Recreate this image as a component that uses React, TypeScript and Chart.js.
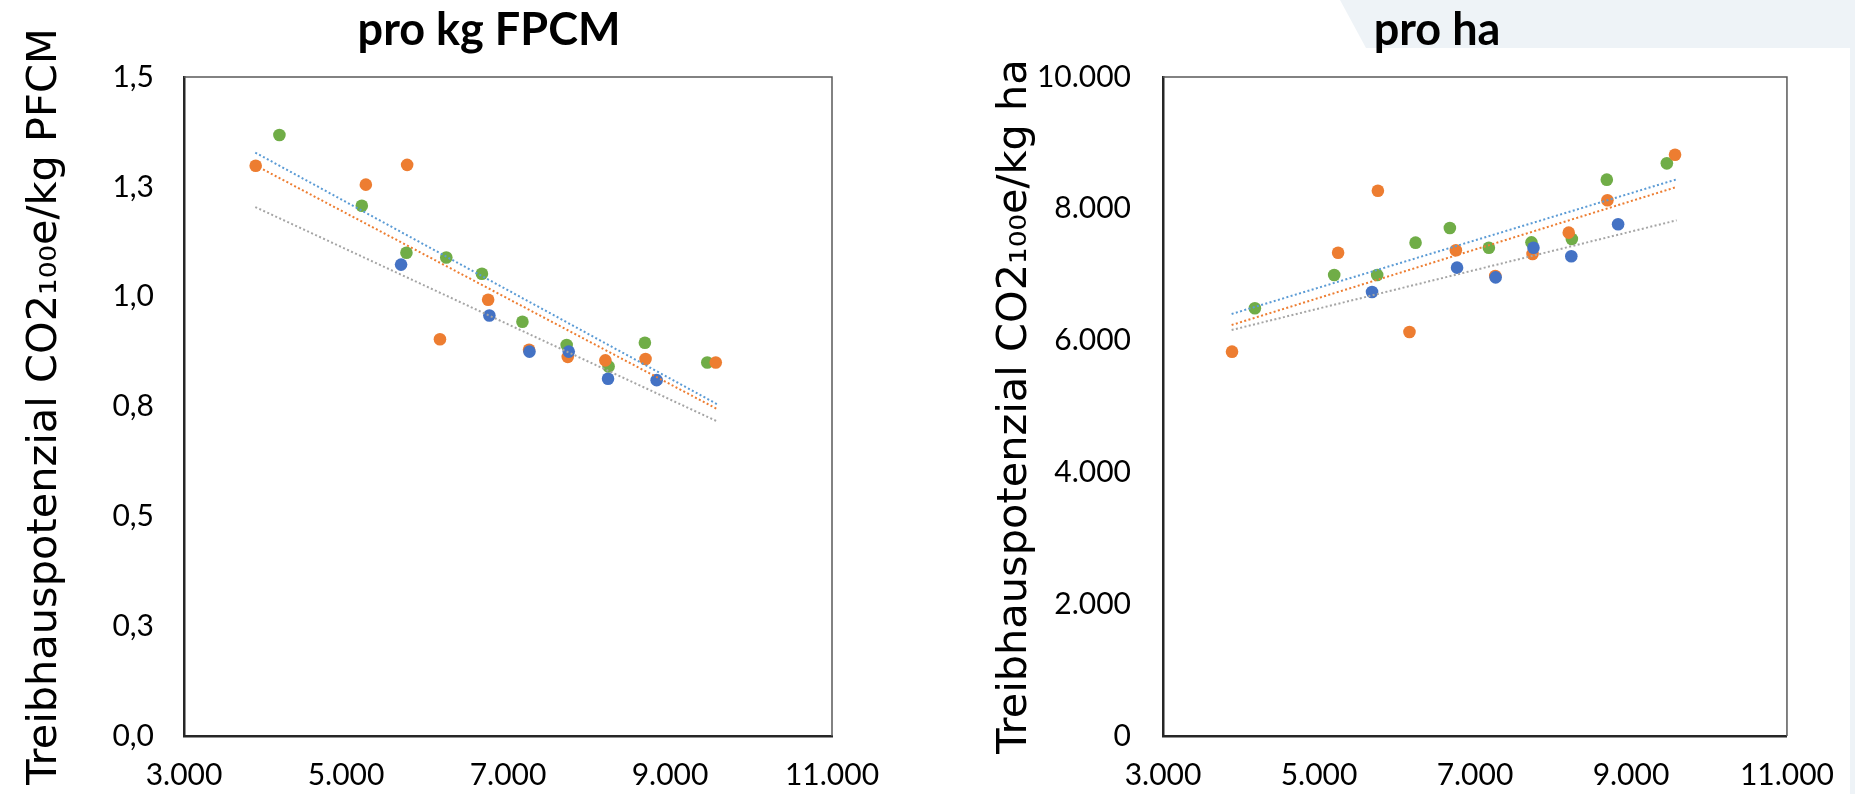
import React, { useEffect, useRef } from "react";
import { Chart, registerables } from "chart.js";

Chart.register(...registerables);

// ---- data ----
const blueX = [5680, 6770, 7265, 7750, 8235, 8835];
const orangeX = [3885, 5245, 5755, 6160, 6755, 7260, 7738, 8202, 8698, 9565];
const greenX = [4178, 5195, 5746, 6238, 6678, 7178, 7724, 8242, 8690, 9460];

const blueKg = [1.073, 0.957, 0.875, 0.875, 0.813, 0.81];
const orangeKg = [1.298, 1.255, 1.3, 0.903, 0.993, 0.879, 0.863, 0.855, 0.858, 0.85];
const greenKg = [1.368, 1.207, 1.1, 1.089, 1.052, 0.943, 0.89, 0.841, 0.895, 0.85];

const blueHa = [6737, 7107, 6960, 7410, 7279, 7765];
const orangeHa = [5832, 7334, 8275, 6130, 7370, 6980, 7314, 7638, 8129, 8821];
const greenHa = [6490, 6995, 6995, 7486, 7709, 7410, 7491, 7542, 8442, 8690];

const trendX = [3880, 9585];
const trendBlueKg = [1.328, 0.755];
const trendOrangeKg = [1.299, 0.744];
const trendGrayKg = [1.204, 0.716];
const trendBlueHa = [6404, 8447];
const trendOrangeHa = [6237, 8331];
const trendGrayHa = [6161, 7825];

const xTicks = [3000, 5000, 7000, 9000, 11000];
const kgTicks = [0, 0.25, 0.5, 0.75, 1.0, 1.25, 1.5];
const haTicks = [0, 2000, 4000, 6000, 8000, 10000];

const titleKg = "pro kg FPCM";
const titleHa = "pro ha";
const yTitleKg = "Treibhauspotenzial CO2\u2081\u2080\u2080e/kg PFCM";
const yTitleHa = "Treibhauspotenzial CO2\u2081\u2080\u2080e/kg ha";

// ---- styling ----
const BLUE = "#4472C4";
const ORANGE = "#ED7D31";
const GREEN = "#70AD47";
const T_BLUE = "#5B9BD5";
const T_ORANGE = "#ED7D31";
const T_GRAY = "#A5A5A5";
const TICK_FONT = "Lato";

const fmtThousands = (v: number) =>
  String(Math.round(v)).replace(/\B(?=(\d{3})+(?!\d))/g, ".");
const fmtKg = (v: number) => v.toFixed(1).replace(".", ",");

const pts = (xs: number[], ys: number[]) => xs.map((x, i) => ({ x, y: ys[i] }));

const framePlugin = {
  id: "frame",
  afterDatasetsDraw(chart: any) {
    const { ctx, chartArea: a } = chart;
    ctx.save();
    ctx.strokeStyle = "#595959";
    ctx.lineWidth = 1.5;
    ctx.beginPath();
    ctx.moveTo(a.left, a.top);
    ctx.lineTo(a.right, a.top);
    ctx.lineTo(a.right, a.bottom);
    ctx.stroke();
    ctx.restore();
  },
};

const panelTitlePlugin = {
  id: "panelTitle",
  afterDraw(chart: any, _args: any, o: any) {
    const { ctx } = chart;
    ctx.save();
    ctx.font = `bold ${o.size}px ${o.family}`;
    ctx.fillStyle = "#000";
    ctx.textAlign = "center";
    ctx.textBaseline = "alphabetic";
    ctx.fillText(o.text, o.x, o.y);
    ctx.restore();
  },
};

type Panel = {
  blue: number[];
  orange: number[];
  green: number[];
  tBlue: number[];
  tOrange: number[];
  tGray: number[];
  yTicks: number[];
  yMax: number;
  yFmt: (v: number) => string;
  yTitle: string;
  yTitlePad: number;
  title: string;
  titleX: number;
  yWidth: number;
  yTickPad: number;
  padRight: number;
};

function buildConfig(p: Panel): any {
  const trend = (ys: number[], color: string) => ({
    type: "line",
    data: pts(trendX, ys),
    borderColor: color,
    borderWidth: 2,
    borderDash: [2, 2.4],
    pointRadius: 0,
    fill: false,
    showLine: true,
    order: 0,
  });
  const scatter = (xs: number[], ys: number[], color: string, order: number) => ({
    type: "scatter",
    data: pts(xs, ys),
    backgroundColor: color,
    borderColor: color,
    borderWidth: 0,
    pointRadius: 6.3,
    pointHoverRadius: 6.3,
    order,
  });
  return {
    type: "scatter",
    data: {
      datasets: [
        trend(p.tBlue, T_BLUE),
        trend(p.tOrange, T_ORANGE),
        trend(p.tGray, T_GRAY),
        scatter(blueX, p.blue, BLUE, 1),
        scatter(orangeX, p.orange, ORANGE, 2),
        scatter(greenX, p.green, GREEN, 3),
      ],
    },
    options: {
      animation: false,
      responsive: false,
      devicePixelRatio: 1,
      layout: { padding: { left: 0, top: 77, right: p.padRight, bottom: 0 } },
      plugins: {
        legend: { display: false },
        tooltip: { enabled: false },
        title: { display: false },
        panelTitle: { text: p.title, x: p.titleX, y: 45, size: 45, family: "Lato" },
      },
      scales: {
        x: {
          type: "linear",
          min: 3000,
          max: 11000,
          afterBuildTicks: (ax: any) => {
            ax.ticks = xTicks.map((v) => ({ value: v }));
          },
          afterFit: (ax: any) => {
            ax.height = 58;
          },
          ticks: {
            callback: (v: any) => fmtThousands(Number(v)),
            font: { family: TICK_FONT, size: 30 },
            color: "#000",
            padding: 21,
            maxRotation: 0,
            autoSkip: false,
          },
          grid: { display: false, drawTicks: false },
          border: { display: true, color: "#262626", width: 2.5 },
        },
        y: {
          type: "linear",
          min: 0,
          max: p.yMax,
          afterBuildTicks: (ax: any) => {
            ax.ticks = p.yTicks.map((v) => ({ value: v }));
          },
          afterFit: (ax: any) => {
            ax.width = p.yWidth;
          },
          ticks: {
            callback: (v: any) => p.yFmt(Number(v)),
            font: { family: TICK_FONT, size: 30 },
            color: "#000",
            padding: p.yTickPad,
            autoSkip: false,
          },
          title: {
            display: true,
            text: p.yTitle,
            font: { family: "DejaVu Sans", size: 41.5 },
            color: "#000",
            padding: { top: p.yTitlePad, bottom: 0 },
          },
          grid: { display: false, drawTicks: false },
          border: { display: true, color: "#262626", width: 2.5 },
        },
      },
    },
    plugins: [framePlugin, panelTitlePlugin],
  };
}

function ChartCanvas(props: { panel: Panel; left: number; width: number }) {
  const ref = useRef<HTMLCanvasElement | null>(null);
  useEffect(() => {
    if (!ref.current) return;
    const chart = new Chart(ref.current, buildConfig(props.panel));
    return () => chart.destroy();
  }, []);
  return (
    <canvas
      ref={ref}
      width={props.width}
      height={794}
      style={{ position: "absolute", left: props.left, top: 0, width: props.width, height: 794 }}
    />
  );
}

const panelKg: Panel = {
  blue: blueKg,
  orange: orangeKg,
  green: greenKg,
  tBlue: trendBlueKg,
  tOrange: trendOrangeKg,
  tGray: trendGrayKg,
  yTicks: kgTicks,
  yMax: 1.5,
  yFmt: fmtKg,
  yTitle: yTitleKg,
  yTitlePad: 20,
  title: titleKg,
  titleX: 489,
  yWidth: 184,
  yTickPad: 30,
  padRight: 98,
};

const panelHa: Panel = {
  blue: blueHa,
  orange: orangeHa,
  green: greenHa,
  tBlue: trendBlueHa,
  tOrange: trendOrangeHa,
  tGray: trendGrayHa,
  yTicks: haTicks,
  yMax: 10000,
  yFmt: fmtThousands,
  yTitle: yTitleHa,
  yTitlePad: 60,
  title: titleHa,
  titleX: 507,
  yWidth: 233,
  yTickPad: 32,
  padRight: 61,
};

export default function App() {
  return (
    <div
      style={{
        position: "absolute",
        left: 0,
        top: 0,
        width: 1855,
        height: 794,
        overflow: "hidden",
        background: "#ffffff",
      }}
    >
      <div
        style={{
          position: "absolute",
          left: 1340,
          top: 0,
          width: 515,
          height: 48,
          background: "#EEF3F7",
          clipPath: "polygon(0 0, 100% 0, 100% 100%, 26px 100%)",
        }}
      />
      <div
        style={{
          position: "absolute",
          left: 1850,
          top: 0,
          width: 5,
          height: 794,
          background: "#EEF3F7",
        }}
      />
      <ChartCanvas panel={panelKg} left={0} width={930} />
      <ChartCanvas panel={panelHa} left={930} width={925} />
    </div>
  );
}
